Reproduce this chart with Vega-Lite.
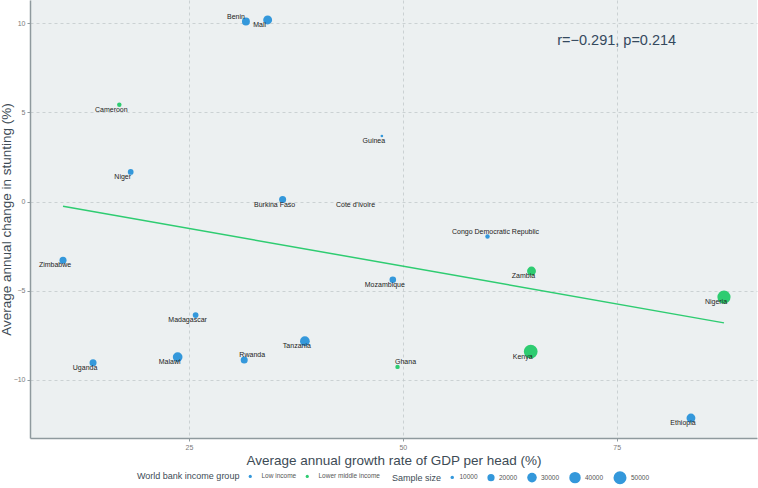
{
  "$schema": "https://vega.github.io/schema/vega-lite/v6.json",
  "width": 727,
  "height": 438,
  "padding": {"left": 30, "top": 0, "right": 1, "bottom": 50},
  "autosize": {"type": "none"},
  "background": "white",
  "data": {
    "values": [
      {"country": "Benin", "x": 31.66, "y": 10.10, "income": "Low income", "sample": 23000},
      {"country": "Mali", "x": 34.20, "y": 10.19, "income": "Low income", "sample": 27000},
      {"country": "Cameroon", "x": 16.86, "y": 5.43, "income": "Lower middle income", "sample": 12000},
      {"country": "Guinea", "x": 47.55, "y": 3.68, "income": "Low income", "sample": 8800},
      {"country": "Niger", "x": 18.19, "y": 1.66, "income": "Low income", "sample": 15500},
      {"country": "Burkina Faso", "x": 35.95, "y": 0.11, "income": "Low income", "sample": 19500},
      {"country": "Cote d'Ivoire", "x": 45.40, "y": 0.10, "income": null, "sample": null},
      {"country": "Congo Democratic Republic", "x": 59.90, "y": -1.96, "income": "Low income", "sample": 12000},
      {"country": "Zimbabwe", "x": 10.28, "y": -3.29, "income": "Low income", "sample": 19500},
      {"country": "Madagascar", "x": 25.78, "y": -6.37, "income": "Low income", "sample": 15500},
      {"country": "Malawi", "x": 23.68, "y": -8.73, "income": "Low income", "sample": 31000},
      {"country": "Rwanda", "x": 31.46, "y": -8.89, "income": "Low income", "sample": 19500},
      {"country": "Uganda", "x": 13.79, "y": -9.05, "income": "Low income", "sample": 19500},
      {"country": "Tanzania", "x": 38.55, "y": -7.84, "income": "Low income", "sample": 31000},
      {"country": "Mozambique", "x": 48.83, "y": -4.39, "income": "Low income", "sample": 18000},
      {"country": "Zambia", "x": 65.04, "y": -3.90, "income": "Lower middle income", "sample": 27000},
      {"country": "Nigeria", "x": 87.54, "y": -5.36, "income": "Lower middle income", "sample": 51000},
      {"country": "Ghana", "x": 49.38, "y": -9.28, "income": "Lower middle income", "sample": 12000},
      {"country": "Kenya", "x": 64.95, "y": -8.42, "income": "Lower middle income", "sample": 55000},
      {"country": "Ethiopia", "x": 83.68, "y": -12.15, "income": "Low income", "sample": 27000}
    ]
  },
  "encoding": {
    "x": {
      "field": "x", "type": "quantitative",
      "scale": {"domain": [6.42, 91.4], "nice": false, "zero": false},
      "axis": {"values": [25, 50, 75], "title": "Average annual growth rate of GDP per head (%)", "titlePadding": 3}
    },
    "y": {
      "field": "y", "type": "quantitative",
      "scale": {"domain": [-13.27, 11.31], "nice": false, "zero": false},
      "axis": {"values": [-10, -5, 0, 5, 10], "title": "Average annual change in stunting (%)", "titleX": -16.5}
    }
  },
  "layer": [
    {
      "transform": [{"regression": "y", "on": "x"}],
      "mark": {"type": "line", "color": "#2ECC71", "strokeWidth": 1.5}
    },
    {
      "transform": [{"filter": "isValid(datum.sample)"}],
      "mark": {"type": "point", "filled": true, "opacity": 1, "shape": "circle"},
      "encoding": {
        "color": {
          "field": "income", "type": "nominal",
          "scale": {"domain": ["Low income", "Lower middle income"], "range": ["#3498DB", "#2ECC71"]},
          "legend": {
            "title": "World bank income group", "orient": "none", "direction": "horizontal",
            "legendX": 107, "legendY": 473, "titleOrient": "left", "titlePadding": 7,
            "symbolSize": 10, "labelOffset": 8, "columnPadding": 7, "symbolStrokeWidth": 0
          }
        },
        "size": {
          "field": "sample", "type": "quantitative",
          "scale": {"domain": [7000, 50000], "range": [0, 170], "zero": false},
          "legend": {
            "title": "Sample size", "orient": "none", "direction": "horizontal",
            "legendX": 362, "legendY": 470.5, "titleOrient": "left", "titlePadding": 7,
            "values": [10000, 20000, 30000, 40000, 50000], "format": "d",
            "symbolFillColor": "#3498DB", "symbolStrokeWidth": 0,
            "labelOffset": 4, "columnPadding": 9
          }
        }
      }
    },
    {
      "transform": [{"filter": {"not": {"field": "country", "oneOf": ["Benin", "Congo Democratic Republic", "Rwanda", "Ghana"]}}}],
      "mark": {"type": "text", "fontSize": 7, "color": "#222222", "dx": -8, "dy": 5, "align": "center", "baseline": "middle"},
      "encoding": {"text": {"field": "country"}}
    },
    {
      "transform": [{"filter": {"field": "country", "oneOf": ["Congo Democratic Republic", "Rwanda", "Ghana"]}}],
      "mark": {"type": "text", "fontSize": 7, "color": "#222222", "dx": 8, "dy": -4.5, "align": "center", "baseline": "middle"},
      "encoding": {"text": {"field": "country"}}
    },
    {
      "transform": [{"filter": {"field": "country", "equal": "Benin"}}],
      "mark": {"type": "text", "fontSize": 7, "color": "#222222", "dx": -10, "dy": -5, "align": "center", "baseline": "middle"},
      "encoding": {"text": {"field": "country"}}
    },
    {
      "data": {"values": [{"x": 75, "y": 9, "label": "r=−0.291, p=0.214"}]},
      "mark": {"type": "text", "fontSize": 14.5, "color": "#34495E", "align": "center", "baseline": "middle"},
      "encoding": {"text": {"field": "label"}}
    }
  ],
  "config": {
    "font": "Liberation Sans",
    "view": {"fill": "#ECF0F1", "stroke": null},
    "axis": {
      "gridDash": [3, 3], "gridColor": "#c3c9cc", "gridWidth": 0.8,
      "domainColor": "#8f9a9e", "domainWidth": 1.5,
      "tickColor": "#8f9a9e", "tickSize": 3,
      "labelFontSize": 7, "labelColor": "#7a7a7a", "labelPadding": 2,
      "titleFontSize": 13.5, "titleFontWeight": "normal", "titleColor": "#3d4b55"
    },
    "legend": {
      "titleFontSize": 9, "titleFontWeight": "normal", "titleColor": "#3d4b55",
      "labelFontSize": 6.5, "labelColor": "#555555"
    }
  }
}
